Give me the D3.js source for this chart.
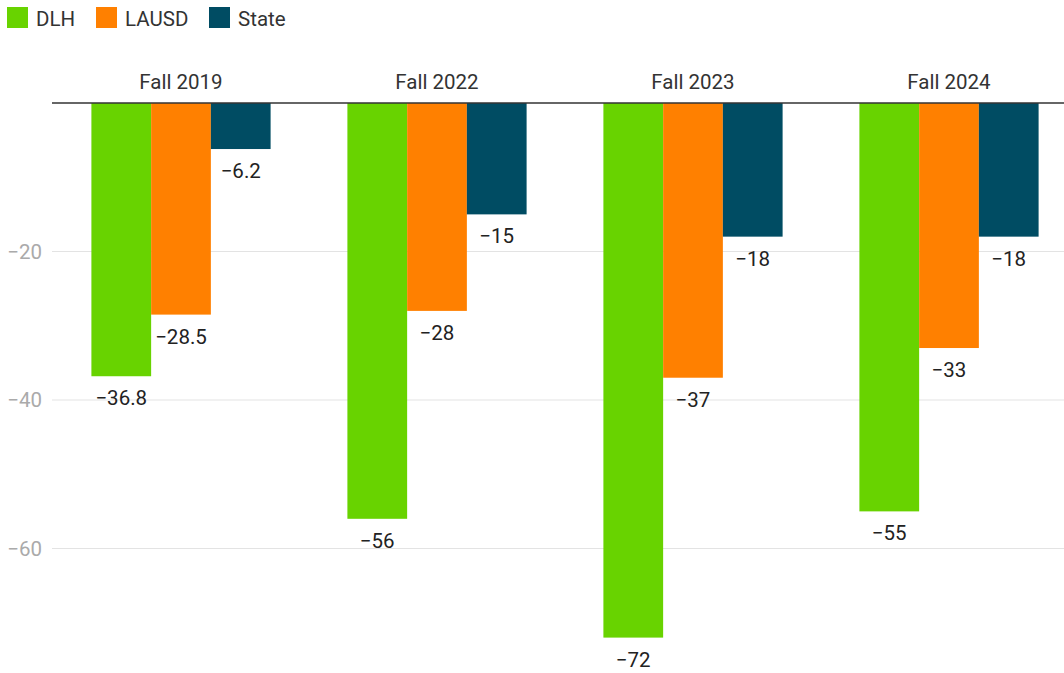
<!DOCTYPE html>
<html>
<head>
<meta charset="utf-8">
<script src="https://cdn.jsdelivr.net/npm/d3@7"></script>
<style>
  body { margin: 0; background: #fff; }
  svg { font-family: Roboto, "Noto Sans", sans-serif; }
</style>
</head>
<body>
<svg width="1064" height="673"></svg>
<script>
// categories and series
var terms = ["Fall 2019", "Fall 2022", "Fall 2023", "Fall 2024"];
var seriesNames = ["DLH", "LAUSD", "State"];
var dlh = [-36.8, -56, -72, -55];
var lausd = [-28.5, -28, -37, -33];
var state = [-6.2, -15, -18, -18];
var yTicks = [-20, -40, -60];
var colors = ["#68d300", "#ff8000", "#004c63"];

var values = [dlh, lausd, state];
var rows = terms.map(function(t, i) {
  return { term: t, vals: seriesNames.map(function(s, j) { return { name: s, v: values[j][i] }; }) };
});

var svg = d3.select("svg");

var x0 = d3.scaleBand().domain(terms).range([53, 1077]).paddingInner(0.3).paddingOuter(0.15);
var x1 = d3.scaleBand().domain(seriesNames).range([0, x0.bandwidth()]);
var y = d3.scaleLinear().domain([0, -72]).range([103, 637.6]);
var color = d3.scaleOrdinal().domain(seriesNames).range(colors);

var fmt = function(v) { return String(v).replace("-", "\u2212"); };

// gridlines + y labels
var grid = svg.append("g");
grid.selectAll("line").data(yTicks).enter().append("line")
  .attr("x1", 52).attr("x2", 1064)
  .attr("y1", function(d) { return y(d); }).attr("y2", function(d) { return y(d); })
  .attr("stroke", "#e3e3e3").attr("stroke-width", 1);
grid.selectAll("text").data(yTicks).enter().append("text")
  .attr("x", 42).attr("y", function(d) { return y(d); })
  .attr("dy", "0.35em").attr("text-anchor", "end")
  .attr("fill", "#aaa").style("font-size", "20.5px")
  .text(fmt);

// bars
var grp = svg.selectAll(".term").data(rows).enter().append("g")
  .attr("class", "term")
  .attr("transform", function(d) { return "translate(" + x0(d.term) + ",0)"; });

grp.selectAll("rect").data(function(d) { return d.vals; }).enter().append("rect")
  .attr("x", function(d) { return x1(d.name); })
  .attr("width", x1.bandwidth())
  .attr("y", y(0))
  .attr("height", function(d) { return y(d.v) - y(0); })
  .attr("fill", function(d) { return color(d.name); });

grp.selectAll(".val").data(function(d) { return d.vals; }).enter().append("text")
  .attr("class", "val")
  .attr("x", function(d) { return x1(d.name) + x1.bandwidth() / 2; })
  .attr("y", function(d) { return y(d.v) + 29; })
  .attr("text-anchor", "middle")
  .attr("fill", "#222").style("font-size", "20.5px")
  .text(function(d) { return fmt(d.v); });

// category labels above zero line
grp.append("text")
  .attr("x", x0.bandwidth() / 2).attr("y", 89)
  .attr("text-anchor", "middle")
  .attr("fill", "#333").style("font-size", "20.5px")
  .text(function(d) { return d.term; });

// zero line
svg.append("line")
  .attr("x1", 52).attr("x2", 1064).attr("y1", y(0)).attr("y2", y(0))
  .attr("stroke", "#333").attr("stroke-width", 1.5);

// legend
var legX = [7, 96, 209];
var leg = svg.selectAll(".leg").data(seriesNames).enter().append("g")
  .attr("class", "leg")
  .attr("transform", function(d, i) { return "translate(" + legX[i] + ",7)"; });
leg.append("rect").attr("width", 21).attr("height", 21)
  .attr("fill", function(d) { return color(d); });
leg.append("text").attr("x", 29).attr("y", 18.5)
  .attr("fill", "#333").style("font-size", "20.5px")
  .text(function(d) { return d; });
</script>
</body>
</html>
